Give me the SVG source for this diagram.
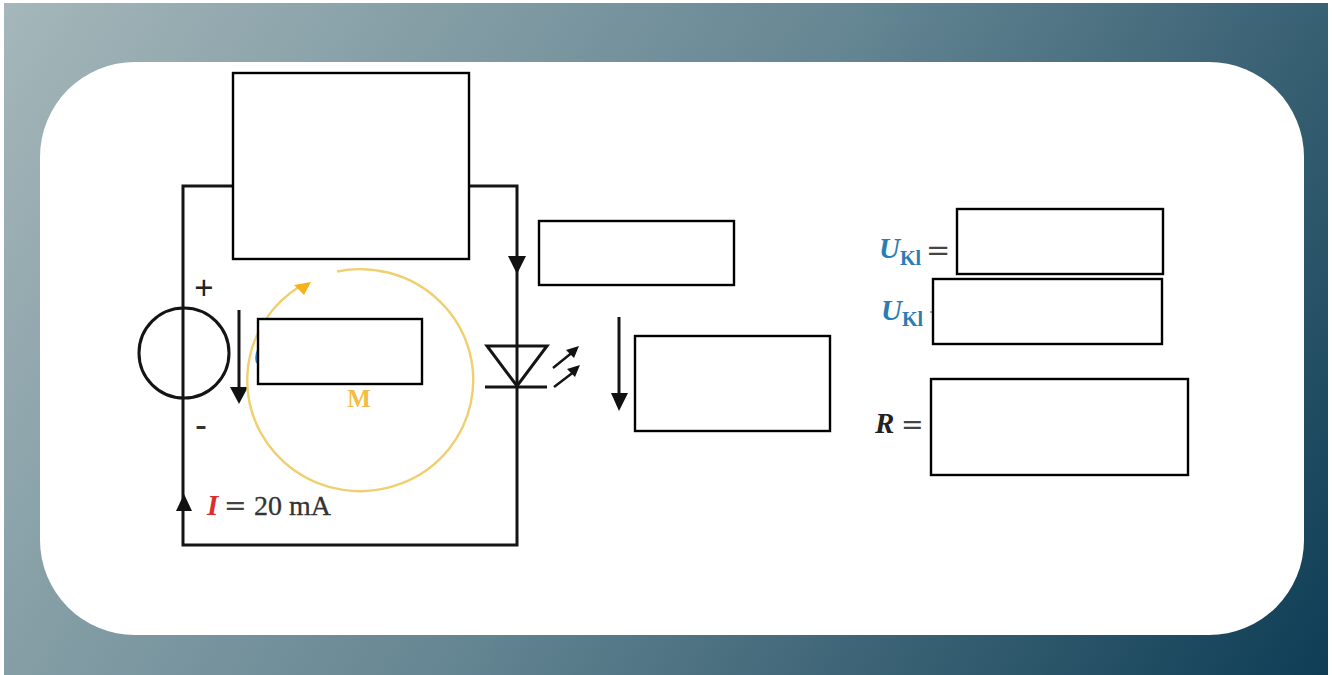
<svg xmlns="http://www.w3.org/2000/svg" width="1332" height="675" viewBox="0 0 1332 675">
<style>
.w{fill:none;stroke:#141414;stroke-width:3}
.box{fill:#fff;stroke:#000;stroke-width:2.4}
.eq{font-family:"DejaVu Serif","Liberation Serif",serif;fill:#444}
.v{font-family:"Liberation Serif",serif;font-weight:bold;font-style:italic;font-size:29px}
.s{font-family:"Liberation Serif",serif;font-weight:bold;font-size:20px}
.ah{fill:#111}
</style>
<defs>
<linearGradient id="bg" gradientUnits="userSpaceOnUse" x1="40" y1="-60" x2="1290" y2="735">
<stop offset="0" stop-color="#a5b7ba"/>
<stop offset="0.5" stop-color="#648592"/>
<stop offset="1" stop-color="#0e3d55"/>
</linearGradient>
</defs>
<rect width="1332" height="675" fill="#fff"/>
<rect x="4" y="3" width="1324" height="672" fill="url(#bg)"/>
<rect x="40" y="62" width="1264" height="573" rx="95" ry="95" fill="#fff"/>
<g id="connectors">
<path class="w" d="M232 186H183V545H517V186H469"/>
<path class="ah" d="M508 256H526L517 274Z"/>
<path class="ah" d="M176 511H192L184 494Z"/>
<path class="w" d="M239 310V390"/>
<path class="ah" d="M230 387H248L239 404Z"/>
<path class="w" d="M619 317V396"/>
<path class="ah" d="M611 393H628L619 411Z"/>
</g>
<g id="mesh">
<path d="M337 271.5A113 111 0 1 1 302 285" fill="none" stroke="#f0cf6e" stroke-width="2.4"/>
<path d="M311 282L294 285L304 295Z" fill="#f6b21b"/>
<text x="359" y="407" text-anchor="middle" font-family="Liberation Serif,serif" font-weight="bold" font-size="25" fill="#f2bd44">M</text>
</g>
<g id="source">
<circle cx="184" cy="353" r="45" fill="none" stroke="#141414" stroke-width="3"/>
<text x="204" y="299" text-anchor="middle" font-family="Liberation Sans,sans-serif" font-size="33" fill="#222">+</text>
<text x="201" y="437" text-anchor="middle" font-family="Liberation Sans,sans-serif" font-size="36" fill="#333">-</text>
</g>
<g id="led">
<path class="w" d="M487 346H547L517 386Z"/>
<path class="w" d="M485 387H547"/>
<path d="M553 368L574 351M554 387L575 371" fill="none" stroke="#141414" stroke-width="2.4"/>
<path class="ah" d="M579 346L566 350L574 358Z"/>
<path class="ah" d="M580 365L567 369L575 377Z"/>
</g>
<g id="current-label">
<text class="v" x="207" y="515" font-size="27" fill="#d9302c">I</text>
<text class="eq" x="224" y="515" font-size="27">=</text>
<text x="254" y="515" font-family="Liberation Serif,serif" font-size="28" fill="#333" stroke="#333" stroke-width="0.3">20 mA</text>
</g>
<g id="box-top"><rect class="box" x="233" y="73" width="236" height="186"/></g>
<g id="box-source"><path d="M258 350Q255 356 257 363" fill="none" stroke="#2f86c5" stroke-width="2"/><rect class="box" x="258" y="319" width="164" height="65"/></g>
<g id="box-resistor-voltage"><rect class="box" x="539" y="221" width="195" height="64"/></g>
<g id="box-led-voltage"><rect class="box" x="635" y="336" width="195" height="95"/></g>
<g id="eq1">
<text class="v" x="879" y="258" fill="#2a7cb5">U</text>
<text class="s" x="900" y="265" fill="#2a7cb5">Kl</text>
<text class="eq" x="926" y="260" font-size="29">=</text>
<rect class="box" x="957" y="209" width="206" height="65"/>
</g>
<g id="eq2">
<text class="v" x="881" y="320" fill="#2a7cb5">U</text>
<text class="s" x="902" y="326" fill="#2a7cb5">Kl</text>
<path d="M930 312H933" stroke="#888" stroke-width="1.5"/>
<rect class="box" x="933" y="279" width="229" height="65"/>
</g>
<g id="eq3">
<text class="v" x="875" y="433" fill="#222">R</text>
<text class="eq" x="901" y="434" font-size="27">=</text>
<rect class="box" x="931" y="379" width="257" height="96"/>
</g>
</svg>
